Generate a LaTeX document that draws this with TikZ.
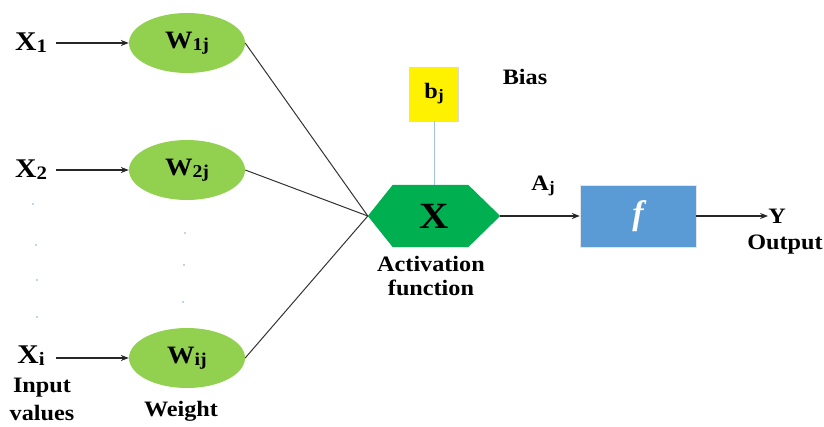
\documentclass[tikz,border=0pt]{standalone}
\usepackage{fontspec}
\setmainfont[FakeStretch=1.1]{Liberation Serif}
\newfontfamily\fitalic{Liberation Serif}
\usetikzlibrary{shapes.geometric,arrows.meta}
\definecolor{leaf}{HTML}{92D050}
\definecolor{hexgreen}{HTML}{00B050}
\definecolor{boxblue}{HTML}{5B9BD5}
\definecolor{linkblue}{HTML}{9DC3E6}
\definecolor{dotblue}{HTML}{7FA7D6}
\newcommand{\lsub}[2][18]{\raisebox{-2pt}{\fontsize{#1}{#1}\selectfont #2}}
\tikzset{
  lbl/.style={font=\fontsize{22}{24}\selectfont\bfseries, inner sep=0pt, align=center},
  xin/.style={font=\fontsize{27}{28}\selectfont\bfseries, inner sep=0pt},
  weight/.style={ellipse, fill=leaf, minimum width=116pt, minimum height=60pt, inner sep=0pt,
                 font=\fontsize{25}{26}\selectfont\bfseries},
  feed/.style={-{Stealth[length=8pt,width=6pt]}, line width=1.1pt, black!85},
  wire/.style={line width=1pt, black!80},
  tick/.style={fill=dotblue, circle, inner sep=0pt, minimum size=1.6pt}
}
\begin{document}
\begin{tikzpicture}[x=1pt,y=-1pt]
\useasboundingbox (0,0) rectangle (824,427);

% inputs
\node[xin] (x1) at (31,43) {X\lsub[19]{1}};
\node[xin] (x2) at (31,170) {X\lsub[19]{2}};
\node[xin] (xi) at (31,356) {X\lsub[19]{i}};
\node[lbl, font=\fontsize{22}{28}\selectfont\bfseries] (inlab) at (42,399) {Input\\values};

% weights
\node[weight] (w1) at (187,43) {W\lsub{1j}};
\node[weight] (w2) at (187,170) {W\lsub{2j}};
\node[weight] (wi) at (187,358) {W\lsub{ij}};
\node[lbl] (wlab) at (181,411) {Weight};

% elision dots
\foreach \n/\px/\py in {a/33/204, b/36/245, c/37/280, d/37/317, e/185/233, f/184/265, g/183/302}
  \node[tick] (dot\n) at (\px,\py) {};

\draw[feed] ([xshift=-73pt]w1.west) -- (w1.west);
\draw[feed] ([xshift=-73pt]w2.west) -- (w2.west);
\draw[feed] ([xshift=-73pt]wi.west) -- (wi.west);

% summing junction
\node[minimum width=132pt, minimum height=62pt, inner sep=0pt] (hex) at (434,216) {};
\fill[hexgreen] (hex.west) -- ([xshift=25pt]hex.north west) -- ([xshift=-32pt]hex.north east)
  -- (hex.east) -- ([xshift=-32pt]hex.south east) -- ([xshift=25pt]hex.south west) -- cycle;
\node[font=\fontsize{37}{37}\selectfont\bfseries, inner sep=0pt] (hx) at (hex.center) {X};
\node[lbl] (actlab) at (431,276) {Activation\\function};

\draw[wire] (w1.east) -- (hex.west);
\draw[wire] (w2.east) -- (hex.west);
\draw[wire] (wi.east) -- (hex.west);

% bias
\node[draw=black!15, fill=yellow, minimum width=49pt, minimum height=54pt, inner sep=0pt,
      font=\fontsize{22}{22}\selectfont\bfseries] (bj) at (434,94) {b\lsub[16]{j}};
\node[lbl] (biaslab) at (525,77) {Bias};
\draw[linkblue, line width=1pt] (bj.south) -- (hex.north);

% transfer
\node[fill=boxblue, draw=black!10, minimum width=116pt, minimum height=62pt, inner sep=0pt,
      text=white, font=\fontsize{34}{34}\fitalic\bfseries\itshape] (fbox) at (638,216) {f};
\node[lbl] (aj) at (543,186) {A\lsub[16]{j}};
\draw[feed] (hex.east) -- (fbox.west);

\node[lbl] (yout) at (777,216) {Y};
\node[lbl] (outlab) at (785,245) {Output};
\draw[feed] (fbox.east) -- (yout.west);
\end{tikzpicture}
\end{document}
